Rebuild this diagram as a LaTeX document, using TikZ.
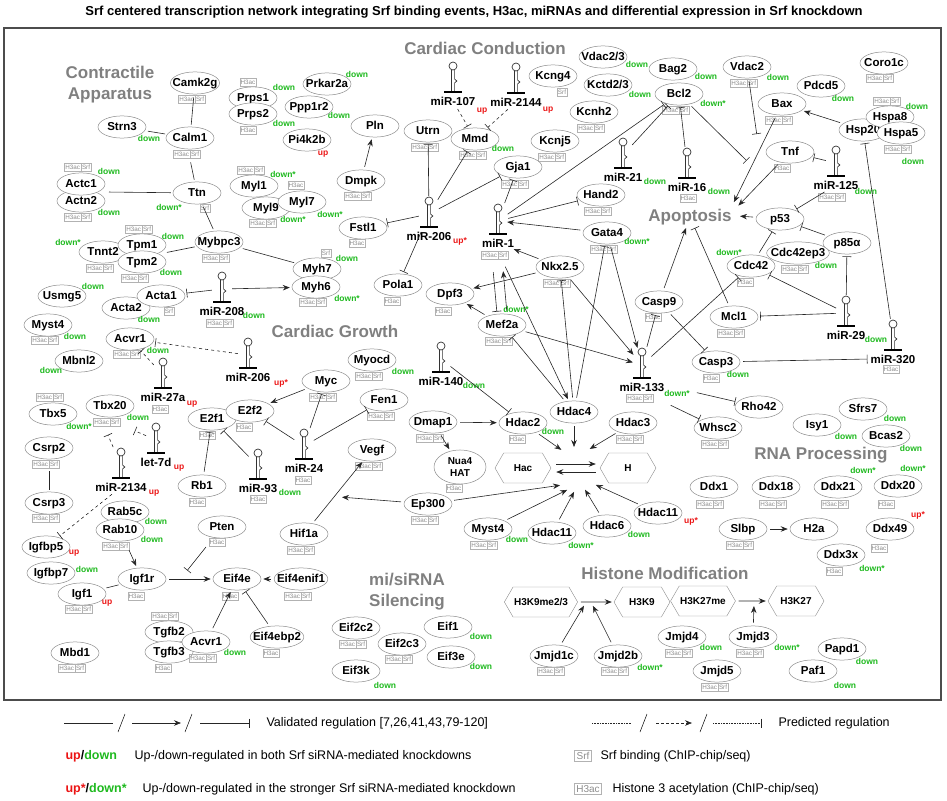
\documentclass[tikz,border=0pt]{standalone}
\usepackage{fontspec}
\setmainfont{Liberation Sans}
\usetikzlibrary{shapes.geometric,shapes.symbols,arrows.meta}
\definecolor{dgreen}{RGB}{30,185,30}
\definecolor{dred}{RGB}{235,20,20}
\newcommand\gfont{\bfseries\fontsize{11.5}{12}\selectfont}
\tikzset{
 g/.style={ellipse, draw=black!45, fill=white, font=\gfont, inner xsep=-5pt, inner ysep=2.6pt, minimum width=48pt, text height=8.5pt, text depth=2pt, line width=0.5pt},
 hx/.style={signal, signal to=west and east, signal pointer angle=120, draw=black!45, fill=white, font=\bfseries\fontsize{10}{11}\selectfont, minimum width=56pt, minimum height=30pt, inner sep=1pt},
 tag/.style={draw=black!30, font=\fontsize{6.3}{7}\selectfont, text=black!45, inner sep=0.8pt, minimum height=8.5pt, text height=5pt, text depth=0.5pt},
 rd/.style={font=\bfseries\fontsize{8.5}{9}\selectfont},
 mirl/.style={font=\bfseries\fontsize{11.5}{12}\selectfont, inner sep=1pt},
 hpn/.style={minimum width=14pt, minimum height=30pt, inner sep=0pt},
 hpl/.style={line width=0.7pt, draw=black!80},
 hd/.style={font=\bfseries\fontsize{17}{21}\selectfont, text=black!50, align=center},
 e/.style={line width=0.6pt, draw=black!85, shorten >=2pt, shorten <=3pt},
 act/.style={e, -{Stealth[length=7pt,width=5.5pt]}},
 inh/.style={e, -{Bar[width=9pt]}},
 dsh/.style={dashed},
 lg/.style={font=\fontsize{12.5}{14}\selectfont, anchor=west},
}
\newcommand\G[3]{\node[g] (#1) at (#2) {#3};}
\newcommand\tHS[1]{\node[tag,anchor=east] at (#1) {H3ac};\node[tag,anchor=west] at (#1) {Srf};}
\newcommand\tH[1]{\node[tag] at (#1) {H3ac};}
\newcommand\tS[1]{\node[tag] at (#1) {Srf};}
\newcommand\rdn[1]{\node[rd,text=dgreen] at (#1) {down};}
\newcommand\rdns[1]{\node[rd,text=dgreen] at (#1) {down*};}
\newcommand\rup[1]{\node[rd,text=dred] at (#1) {up};}
\newcommand\rups[1]{\node[rd,text=dred] at (#1) {up*};}
\newcommand\mir[4]{%
 \node[hpn] (#1) at (#2,#3-13) {};
 \draw[hpl] (#2-1.6,#3) -- (#2-1.6,#3-22);
 \draw[hpl] (#2+1.6,#3) -- (#2+1.6,#3-9) -- (#2+3.8,#3-11) -- (#2+1.6,#3-13) -- (#2+1.6,#3-22);
 \draw[hpl] (#2,#3-26) circle (4);
 \draw[line width=1.6pt] (#2-9,#3) -- (#2+9,#3);
 \node[mirl] (#1l) at (#2,#3+9) {#4};}
\begin{document}
\begin{tikzpicture}[x=1pt,y=-1pt]
\useasboundingbox (0,0) rectangle (947,800);
\node[font=\bfseries\fontsize{13}{14}\selectfont] (title) at (474,12) {Srf centered transcription network integrating Srf binding events, H3ac, miRNAs and differential expression in Srf knockdown};
\draw[line width=1.2pt, draw=black!70] (4,28) rectangle (941,700);
% headings
\node[hd] (hca) at (110,85) {Contractile\\Apparatus};
\node[hd] (hcc) at (485,48) {Cardiac Conduction};
\node[hd] (hcg) at (335,331) {Cardiac Growth};
\node[hd,inner sep=1pt] (apo) at (690,217) {Apoptosis};
\node[hd] (hrna) at (821,455) {RNA Processing};
\node[hd] (hhm) at (665,573) {Histone Modification};
\node[hd] (hsi) at (407,592) {mi/siRNA\\Silencing};
% ---- contractile
\G{camk}{195,83}{Camk2g}\tHS{195,99}
\G{prps1}{253,98}{Prps1}\tH{248,82}\rdn{284,87}
\G{prps2}{253,114}{Prps2}\tH{248,130}\rdn{284,123}
\G{prk}{327,84}{Prkar2a}\rdn{357,74}
\G{ppp}{309,107}{Ppp1r2}\rdn{339,115}
\G{pi4}{307,140}{Pi4k2b}\rup{323,154}
\G{pln}{375,126}{Pln}
\G{dmpk}{361,181}{Dmpk}\tHS{361,196}
\G{strn}{122,127}{Strn3}\rdn{149,138}
\G{calm}{190,138}{Calm1}\tHS{190,154}
\G{actn}{81,201}{Actn2}\tHS{81,217}\rdn{109,212}
\G{actc}{81,184}{Actc1}\tHS{81,167}\rdn{109,171}
\G{ttn}{197,193}{Ttn}\tS{205,208}\rdns{169,207}
\G{myl1}{254,186}{Myl1}\tHS{254,170}\rdns{283,174}
\G{myl9}{266,208}{Myl9}\tHS{266,223}\rdns{293,219}
\G{myl7}{302,202}{Myl7}\tH{296,185}\rdns{330,214}
\G{tnnt}{103,252}{Tnnt2}\tHS{103,268}\rdns{68,242}
\G{tpm1}{142,245}{Tpm1}\tHS{142,229}\rdn{173,236}
\G{tpm2}{142,262}{Tpm2}\tHS{138,278}\rdn{171,272}
\G{mybp}{219,242}{Mybpc3}\tHS{219,258}
\G{myh7}{317,269}{Myh7}\tS{326,253}\rdn{347,258}
\G{myh6}{316,287}{Myh6}\tHS{316,302}\rdns{347,298}
\G{usmg}{62,296}{Usmg5}\rdn{93,286}
\G{acta2}{126,308}{Acta2}\rdn{149,319}
\G{acta1}{161,296}{Acta1}\tS{169,311}
\mir{mir208}{222}{302}{miR-208}\rdn{254,315}\tHS{223,323}
\G{myst4a}{48,325}{Myst4}\tHS{48,340}\rdn{75,336}
\G{acvr1a}{130,339}{Acvr1}\tHS{130,354}\rdn{158,350}
% ---- conduction
\G{utrn}{428,131}{Utrn}\tHS{428,147}
\mir{mir107}{453}{92}{miR-107}\rup{482,111}
\mir{mir2144}{516}{93}{miR-2144}\rup{548,110}
\G{mmd}{475,139}{Mmd}\tHS{476,155}\rdn{503,148}
\G{fstl}{363,228}{Fstl1}\tH{357,243}
\mir{mir206a}{429}{227}{miR-206}\rups{460,241}
\G{pola}{398,285}{Pola1}\tH{392,301}
\G{dpf3}{450,294}{Dpf3}\tH{443,311}
\G{kcng4}{553,76}{Kcng4}\tS{562,92}
\G{vdac23}{603,57}{Vdac2/3}\rdn{637,64}
\G{kctd}{608,85}{Kctd2/3}\rdn{640,94}
\G{kcnh2}{594,112}{Kcnh2}\tHS{594,128}
\G{kcnj5}{555,141}{Kcnj5}\tHS{555,157}
\G{gja1}{518,167}{Gja1}\tHS{518,184}
% ---- apoptosis
\G{bag2}{673,69}{Bag2}\rdn{706,76}
\G{bcl2}{679,94}{Bcl2}\tHS{679,110}\rdns{713,103}
\G{vdac2}{747,67}{Vdac2}\tHS{747,83}\rdn{778,77}
\G{pdcd5}{821,86}{Pdcd5}\rdn{843,98}
\G{coro}{884,63}{Coro1c}\tHS{883,78}
\G{bax}{782,104}{Bax}\tHS{782,120}
\G{hsp20}{863,130}{Hsp20}
\G{hspa8}{890,117}{Hspa8}\tHS{890,101}\rdn{917,106}
\G{hspa5}{901,133}{Hspa5}\tHS{901,149}\rdn{913,161}
\G{tnf}{790,152}{Tnf}\tH{782,168}
\mir{mir125}{836}{176}{miR-125}\rdn{866,191}\tHS{835,197}
\mir{mir21}{623}{168}{miR-21}\rdn{655,181}
\mir{mir16}{687}{178}{miR-16}\rdn{719,191}\tH{688,198}
\G{hand2}{601,195}{Hand2}\tHS{601,211}
\mir{mir1}{498}{234}{miR-1}\tHS{498,255}
\G{gata4}{607,233}{Gata4}\tHS{607,249}\rdns{637,241}
\G{p53}{780,219}{p53}
\G{p85}{847,243}{p85α}
\G{cdcep}{798,253}{Cdc42ep3}\tHS{798,269}\rdn{826,265}
\G{cdc42}{751,266}{Cdc42}\tH{745,282}\rdns{729,252}
\G{nkx}{560,267}{Nkx2.5}\tHS{560,283}
\G{casp9}{659,302}{Casp9}\tH{653,317}
\G{mcl1}{734,317}{Mcl1}\tHS{734,333}
\mir{mir29}{846}{326}{miR-29}\rdn{876,339}
\mir{mir320}{893}{350}{miR-320}\tH{891,369}
\G{mef2a}{502,325}{Mef2a}\tHS{502,341}\rdns{516,309}
\G{casp3}{716,362}{Casp3}\tH{711,378}\rdn{738,374}
\mir{mir133}{642}{378}{miR-133}\rdns{677,393}\tHS{643,398}
\G{rho42}{759,407}{Rho42}
\G{whsc2}{718,428}{Whsc2}\tHS{718,444}
% ---- Hdac cluster
\G{hdac4}{574,412}{Hdac4}
\G{hdac2}{523,423}{Hdac2}\tH{517,439}\rdn{553,431}
\G{hdac3}{633,423}{Hdac3}\tHS{633,439}
\node[hx] (hac) at (523,468) {Hac};
\node[hx] (hh) at (628,468) {H};
\G{myst4b}{488,529}{Myst4}\tHS{487,545}\rdn{517,539}
\G{hdac11a}{552,533}{Hdac11}\rdns{581,545}
\G{hdac6}{607,526}{Hdac6}\rdn{639,534}
\G{hdac11b}{658,513}{Hdac11}\rups{691,521}
% ---- RNA
\G{sfrs7}{863,409}{Sfrs7}\rdn{895,418}
\G{isy1}{817,425}{Isy1}\rdn{846,436}
\G{bcas2}{886,436}{Bcas2}\rdn{911,448}
\G{ddx1}{714,487}{Ddx1}\tHS{713,504}
\G{ddx18}{776,487}{Ddx18}\tHS{776,504}
\G{ddx21}{838,487}{Ddx21}\tHS{838,504}\rdns{863,470}
\G{ddx20}{898,486}{Ddx20}\tH{886,504}\rdns{913,468}
\G{slbp}{743,529}{Slbp}\tHS{743,545}
\G{h2a}{814,529}{H2a}
\G{ddx49}{890,529}{Ddx49}\tH{879,548}\rups{918,515}
\G{ddx3x}{841,555}{Ddx3x}\tH{834,571}\rdns{872,568}
% ---- Histone
\node[hx,minimum width=62pt] (h3k9me) at (541,602) {H3K9me2/3};
\node[hx] (h3k9) at (642,602) {H3K9};
\node[hx,minimum width=60pt] (h3k27me) at (703,601) {H3K27me};
\node[hx] (h3k27) at (796,601) {H3K27};
\G{jmjd1c}{554,656}{Jmjd1c}\tHS{554,671}
\G{jmjd2b}{618,656}{Jmjd2b}\tHS{618,671}\rdns{650,667}
\G{jmjd4}{682,637}{Jmjd4}\tHS{682,653}\rdn{711,647}
\G{jmjd3}{753,637}{Jmjd3}\tHS{753,653}\rdns{787,647}
\G{jmjd5}{717,671}{Jmjd5}\tHS{718,687}
\G{papd1}{842,649}{Papd1}\rdn{867,661}
\G{paf1}{813,671}{Paf1}\rdn{845,685}
% ---- growth
\G{mbnl2}{79,361}{Mbnl2}\rdn{51,370}
\mir{mir206b}{248}{368}{miR-206}\rups{281,383}
\mir{mir27a}{163}{388}{miR-27a}\rup{192,404}\tH{160,409}
\G{myc}{326,381}{Myc}\tHS{326,397}
\G{myocd}{372,360}{Myocd}\tHS{372,376}\rdn{403,371}
\mir{mir140}{441}{372}{miR-140}\rdn{474,385}
\G{tbx5}{53,414}{Tbx5}\tHS{53,397}\rdns{79,426}
\G{tbx20}{110,406}{Tbx20}\tHS{110,422}\rdn{138,417}
\G{e2f1}{212,419}{E2f1}\tH{207,435}
\G{e2f2}{250,411}{E2f2}\tH{244,427}
\G{fen1}{384,400}{Fen1}\tHS{384,416}
\mir{let7d}{156}{453}{let-7d}\rup{179,468}
\G{csrp2}{49,448}{Csrp2}\tHS{49,464}
\mir{mir24}{304}{459}{miR-24}\tH{303,480}
\G{dmap1}{433,422}{Dmap1}\tHS{433,438}
\node[g,align=center,minimum width=52pt,minimum height=32pt,text height=,text depth=,font=\bfseries\fontsize{10}{12}\selectfont] (nua4) at (460,467) {Nua4\\HAT};
\tH{454,488}
\G{vegf}{372,450}{Vegf}\tHS{372,466}
\mir{mir2134}{121}{478}{miR-2134}\rup{154,493}
\G{rb1}{202,486}{Rb1}\tH{197,502}
\mir{mir93}{258}{479}{miR-93}\rdn{290,492}\tH{258,499}
\G{csrp3}{49,503}{Csrp3}\tHS{49,518}
\G{rab5c}{125,512}{Rab5c}\rdn{156,521}
\G{rab10}{120,530}{Rab10}\tHS{119,546}\rdn{152,539}
\G{ep300}{428,504}{Ep300}\tHS{428,520}
\G{pten}{222,527}{Pten}\tH{217,542}
\G{hif1a}{304,534}{Hif1a}\tHS{304,550}
\G{igfbp5}{46,547}{Igfbp5}\rup{74,553}
\G{igfbp7}{51,573}{Igfbp7}\rdn{87,569}
\G{igf1r}{142,579}{Igf1r}\tH{136,596}
\G{eif4e}{237,579}{Eif4e}\tH{230,596}
\G{eif4enif1}{301,579}{Eif4enif1}\tHS{301,596}
\G{igf1}{82,594}{Igf1}\tHS{82,609}\rup{107,603}
\G{tgfb2}{169,632}{Tgfb2}\tHS{168,616}
\G{tgfb3}{169,652}{Tgfb3}\tH{163,668}
\G{acvr1b}{206,642}{Acvr1}\tHS{206,658}\rdn{235,652}
\G{eif4ebp2}{277,637}{Eif4ebp2}\tH{271,653}
\G{mbd1}{75,653}{Mbd1}\tHS{75,668}
\G{eif2c2}{356,628}{Eif2c2}\tHS{356,644}
\G{eif2c3}{402,644}{Eif2c3}\tHS{402,659}
\G{eif1}{448,627}{Eif1}\rdn{481,636}
\G{eif3e}{451,657}{Eif3e}\rdn{481,666}
\G{eif3k}{356,671}{Eif3k}\rdn{385,685}
% ---- coordinates
\coordinate (actcn) at (106,192);
\coordinate (tpmc) at (164,253);
\coordinate (m1b) at (504,264);
\coordinate (apoBx) at (733,204);
\coordinate (apoTn) at (737,207);
\coordinate (apoP) at (738,216);
\coordinate (apoBc) at (748,162);
\coordinate (apoVd) at (757,136);
\coordinate (m133r) at (694,392);
\coordinate (m133w) at (668,404);
\coordinate (c1) at (563,451);
\coordinate (c2) at (574,449);
\coordinate (c3) at (588,450);
\coordinate (c4) at (562,485);
\coordinate (c5) at (569,489);
\coordinate (c6) at (575,490);
\coordinate (c7) at (584,488);
\coordinate (c8) at (594,484);
\coordinate (epx) at (340,497);
\coordinate (j9) at (585,604);
\coordinate (j9b) at (592,604);
\coordinate (j27) at (754,604);
\coordinate (tb20a) at (107,433);
\coordinate (tb20b) at (133,430);
\coordinate (ptx) at (186,572);
% ---- edges contractile
\draw[e] (camk) -- (calm);
\draw[e] (strn) -- (calm);
\draw[e] ([yshift=-10pt]calm.south) -- (ttn);
\draw[e] (actcn) -- (ttn);
\draw[e] (ttn) -- (mybp);
\draw[e] (tpmc) -- (mybp);
\draw[e] (mybp) -- (myh7);
\draw[inh] (mir208) -- (acta1);
\draw[act] (mir208) -- (myh6);
\draw[act] (dmpk) -- (pln);
% conduction
\draw[inh] (mir206a) -- (utrn);
\draw[inh] (mir206a) -- (mmd);
\draw[inh] (mir206a) -- (fstl);
\draw[inh] (mir206a) -- (pola);
\draw[inh] (mir206a) -- (gja1);
\draw[inh,dsh] (mir107l) -- (mmd);
\draw[inh,dsh] (mir2144l) -- (mmd);
\draw[inh] (mir1) -- (gja1);
\draw[inh] (mir1) -- (bcl2);
\draw[inh] (mir1) -- (hand2);
\draw[act] (gata4) -- (mir1);
\draw[act] (nkx) -- (mir1l);
\draw[act] (nkx) -- (dpf3);
\draw[act] (mef2a) -- (dpf3);
\draw[act] ([xshift=5pt]mef2a.north) -- ([xshift=5pt,yshift=-33pt]mir1.south);
\draw[inh] ([xshift=-5pt,yshift=-33pt]mir1.south) -- ([xshift=-5pt]mef2a.north);
\draw[act] (m1b) -- (hdac4);
\draw[inh] (hdac4) -- (nkx);
\draw[inh] (hdac4) -- (gata4);
\draw[inh] (hdac4) -- (mef2a);
\draw[act] (mef2a) -- (mir133);
\draw[act] (nkx) -- (mir133);
\draw[act] (gata4) -- (mir133);
\draw[inh] (mir140) -- (hdac2);
% apoptosis
\draw[inh] (mir133) -- (casp9);
\draw[inh] (mir133) -- (cdc42);
\draw[inh] (m133r) -- (rho42);
\draw[inh] (m133w) -- (whsc2);
\draw[act] (casp9) -- (apo);
\draw[inh] (mcl1) -- (apo);
\draw[inh] (casp9) -- (casp3);
\draw[inh] (casp3) -- (mir320l.west);
\draw[inh] (mir320) -- (hsp20);
\draw[act] (bax) -- (apoBx);
\draw[act] (tnf) -- (apoTn);
\draw[act] (p53) -- (apoP);
\draw[act] (hsp20) -- (bax);
\draw[inh] (mir125) -- (tnf);
\draw[inh] (mir125l) -- (p53);
\draw[inh] (p85) -- (p53);
\draw[inh] (cdc42) -- (p53);
\draw[inh] (mir29) -- (p85);
\draw[inh] (mir29) -- (cdc42);
\draw[inh] (mir29) -- (mcl1);
\draw[inh] (mir21) -- (bcl2);
\draw[inh] (mir16) -- (bcl2);
\draw[inh] (bcl2) -- (apoBc);
\draw[inh] (vdac2) -- (apoVd);
% hdac cluster
\draw[act] (dmap1) -- (hdac2);
\draw[act] (dmap1) -- (nua4);
\draw[act] (hdac2) -- (c1);
\draw[act] (hdac4) -- (c2);
\draw[act] (hdac3) -- (c3);
\draw[act] (ep300) -- (c4);
\draw[act] (myst4b) -- (c5);
\draw[act] (hdac11a) -- (c6);
\draw[act] (hdac6) -- (c7);
\draw[act] (hdac11b) -- (c8);
\draw[act] (ep300) -- (epx);
\draw[act] (hif1a) -- (vegf);
\draw[act,shorten <=5pt,shorten >=4pt] ([yshift=4pt]hac.east) -- ([yshift=4pt]hh.west);
\draw[act,shorten <=4pt,shorten >=5pt] ([yshift=-4pt]hh.west) -- ([yshift=-4pt]hac.east);
\draw[act] (h3k9me) -- (h3k9);
\draw[act] (jmjd1c) -- (j9);
\draw[act] (jmjd2b) -- (j9b);
\draw[act] (h3k27me) -- (h3k27);
\draw[act] (jmjd3) -- (j27);
\draw[act] (slbp) -- (h2a);
% growth
\draw[inh,dsh] (mir206b) -- (acvr1a);
\draw[inh,dsh] (mir27a) -- (acvr1a);
\draw[inh,dsh] (mir2134) -- (tb20a);
\draw[inh,dsh] (let7d) -- (tb20b);
\draw[inh,dsh] (mir2134l) -- (igfbp5);
\draw[act] (myc) -- (e2f2);
\draw[inh] (mir24) -- (myc);
\draw[inh] (mir24) -- (e2f2);
\draw[inh] (mir24) -- (fen1);
\draw[inh] (rb1) -- (e2f1);
\draw[inh] (mir93) -- (e2f1);
\draw[e,shorten <=12pt] (csrp2) -- (csrp3);
\draw[act,shorten <=10pt] (rab10) -- (igf1r);
\draw[e] (igf1) -- (igf1r);
\draw[act] (igf1r) -- (eif4e);
\draw[inh,shorten <=12pt] (pten) -- (ptx);
\draw[act] (eif4enif1) -- (eif4e);
\draw[act] (acvr1b) -- (eif4e);
\draw[inh] (eif4ebp2) -- (eif4e);
% ---- legend
\coordinate (l1) at (64,723); \coordinate (l2) at (113,723);
\coordinate (l3) at (132,723); \coordinate (l4) at (181,723);
\coordinate (l5) at (200,723); \coordinate (l6) at (250,723);
\draw[e,shorten <=0pt,shorten >=0pt] (l1) -- (l2);
\draw[act,shorten <=0pt,shorten >=0pt] (l3) -- (l4);
\draw[inh,shorten <=0pt,shorten >=0pt] (l5) -- (l6);
\draw[line width=0.5pt] (118,732) -- (125,714) (185,732) -- (192,714);
\node[lg] (lt1) at (263,723) {Validated regulation [7,26,41,43,79-120]};
\coordinate (r1) at (592,723); \coordinate (r2) at (631,723);
\coordinate (r3) at (656,723); \coordinate (r4) at (692,723);
\coordinate (r5) at (713,723); \coordinate (r6) at (762,723);
\draw[e,densely dotted,shorten <=0pt,shorten >=0pt] (r1) -- (r2);
\draw[act,densely dashed,shorten <=0pt,shorten >=0pt] (r3) -- (r4);
\draw[inh,densely dotted,shorten <=0pt,shorten >=0pt] (r5) -- (r6);
\draw[line width=0.5pt] (640,732) -- (647,714) (700,732) -- (707,714);
\node[lg] (lt2) at (775,723) {Predicted regulation};
\node[lg,font=\bfseries\fontsize{12.5}{14}\selectfont] (lu) at (62,756) {\textcolor{dred}{up}/\textcolor{dgreen}{down}};
\node[lg] (lt3) at (131,756) {Up-/down-regulated in both Srf siRNA-mediated knockdowns};
\node[lg,font=\bfseries\fontsize{12.5}{14}\selectfont] (lus) at (62,789) {\textcolor{dred}{up*}/\textcolor{dgreen}{down*}};
\node[lg] (lt4) at (139,789) {Up-/down-regulated in the stronger Srf siRNA-mediated knockdown};
\node[draw=black!30,text=black!45,font=\fontsize{10}{12}\selectfont,inner sep=2pt] (ls) at (583,756) {Srf};
\node[lg] (lt5) at (597,756) {Srf binding  (ChIP-chip/seq)};
\node[draw=black!30,text=black!45,font=\fontsize{10}{12}\selectfont,inner sep=2pt] (lh) at (588,789) {H3ac};
\node[lg] (lt6) at (609,789) {Histone 3 acetylation (ChIP-chip/seq)};
\end{tikzpicture}
\end{document}
